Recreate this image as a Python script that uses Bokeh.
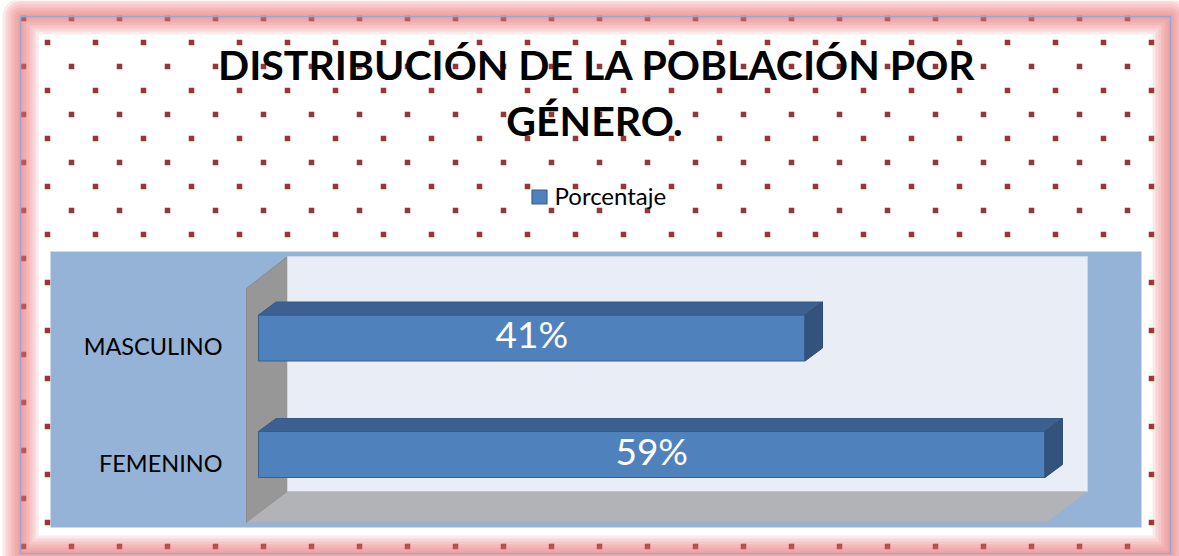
from bokeh.plotting import figure
from bokeh.models import Range1d
from bokeh.core.properties import value
from bokeh.embed import file_html
from bokeh.resources import INLINE
import numpy as np

# ---------------- data ----------------
categories = ["FEMENINO", "MASCULINO"]
percentages = [59, 41]
value_labels = ["59%", "41%"]
series_name = "Porcentaje"
title_lines = ["DISTRIBUCIÓN DE LA POBLACIÓN  POR", "GÉNERO."]

# ---------------- layout constants (reference pixel space) ----------------
W, H = 1179, 556
PX0, PY0 = 0, 0
ZERO_X = 258.0             # pixel x of value 0 on the bar front face
K = 13.33                  # pixels per percent
CAT0_Y = 454.0             # pixel y of the first category's front-face centre
S = 116.5                  # pixels per category step
BL = 0.43                  # empirical baseline correction (fraction of font size)

FONT = value("Lato")

p = figure(width=W, height=H,
           x_range=Range1d(PX0, PX0 + W), y_range=Range1d(PY0 + H, PY0),
           output_backend="svg", toolbar_location=None, min_border=0,
           x_axis_location=None, y_axis_location=None)
p.outline_line_color = None
p.grid.visible = False
p.background_fill_color = "white"
p.border_fill_color = "white"

p.extra_x_ranges = {"pct": Range1d((PX0 - ZERO_X) / K, (PX0 + W - ZERO_X) / K)}
p.extra_y_ranges = {"cat": Range1d((CAT0_Y - (PY0 + H)) / S, (CAT0_Y - PY0) / S)}

# ---------------- dotted background pattern ----------------
dx_, dy_ = [], []
for j in range(-1, 22):
    yy = 42 + 24 * j
    xx = 47 if j % 2 == 0 else 23
    while xx <= 1160:
        dx_.append(xx)
        dy_.append(yy)
        xx += 48
p.rect(x=dx_, y=dy_, width=5.5, height=5.5, fill_color="#953735", line_color=None)

# ---------------- plot area and 3-D walls ----------------
p.quad(left=50, right=1141, top=251, bottom=527, fill_color="#95B3D7", line_color=None)
p.patch([246, 287, 287, 246], [288, 256, 491, 522], fill_color="#979797",
        line_color="#8A8A8A", line_width=1)
p.quad(left=287, right=1087, top=256, bottom=491, fill_color="#E9EDF5",
       line_color="#CFD6E3", line_width=1)
p.patch([246, 287, 1087, 1046], [522, 491, 491, 522], fill_color="#B1B3B6",
        line_color=None)

# ---------------- 3-D bars ----------------
cat_idx = np.arange(len(categories), dtype=float)
vals = np.array(percentages, dtype=float)
hh = 23.0 / S          # half bar height (category units)
ddx = 17.5 / K         # depth offset in percent units
ddy = 13.0 / S         # depth offset in category units

p.quad(left=0, right=vals, bottom=cat_idx - hh, top=cat_idx + hh,
       x_range_name="pct", y_range_name="cat",
       fill_color="#4F81BD", line_color="#3A5F8B", line_width=1)
top_xs = [[0, ddx, v + ddx, v] for v in vals]
top_ys = [[c + hh, c + hh + ddy, c + hh + ddy, c + hh] for c in cat_idx]
p.patches(top_xs, top_ys, x_range_name="pct", y_range_name="cat",
          fill_color="#3C6191", line_color="#375A86", line_width=1)
side_xs = [[v, v + ddx, v + ddx, v] for v in vals]
side_ys = [[c - hh, c - hh + ddy, c + hh + ddy, c + hh] for c in cat_idx]
p.patches(side_xs, side_ys, x_range_name="pct", y_range_name="cat",
          fill_color="#33537D", line_color="#2F4E76", line_width=1)

# value labels
vfs = 37
p.text(x=vals / 2, y=cat_idx - (11.5 - BL * vfs) / S, text=value_labels,
       x_range_name="pct", y_range_name="cat",
       text_align="center", text_baseline="alphabetic", text_color="white",
       text_font=FONT, text_font_size=f"{vfs}px")

# category labels
cfs = 23.5
p.text(x=[(222 - ZERO_X) / K] * len(categories), y=cat_idx - (18.5 - BL * cfs) / S,
       text=categories, x_range_name="pct", y_range_name="cat",
       text_align="right", text_baseline="alphabetic", text_color="black",
       text_font=FONT, text_font_size=f"{cfs}px")

# ---------------- title ----------------
tfs = 41
p.text(x=[601.5], y=[82 - BL * tfs], text=[title_lines[0]], text_align="center",
       text_baseline="alphabetic", text_color="black", text_font=FONT,
       text_font_style="bold", text_font_size=f"{tfs}px")
p.text(x=[594], y=[138 - BL * tfs], text=[title_lines[1]], text_align="center",
       text_baseline="alphabetic", text_color="black", text_font=FONT,
       text_font_style="bold", text_font_size=f"{tfs}px")

# ---------------- legend ----------------
p.rect(x=[539], y=[196.5], width=15, height=14, fill_color="#4F81BD",
       line_color="#3A5F8B", line_width=1.2)
lfs = 24
p.text(x=[554], y=[205 - BL * lfs], text=[series_name], text_align="left",
       text_baseline="alphabetic", text_color="black", text_font=FONT,
       text_font_size=f"{lfs}px")

# ---------------- pink glow border ----------------
for lw in [36, 30, 24, 18, 12, 6]:
    p.rect(x=[595], y=[284.5], width=1150, height=537, fill_alpha=0,
           line_color="#E86A6A", line_alpha=0.15, line_width=lw, line_join="round")
p.rect(x=[595], y=[284.5], width=1150, height=537, fill_alpha=0,
       line_color="#8EAADB", line_width=1.5)

open("out.html", "w").write(file_html(p, INLINE))
